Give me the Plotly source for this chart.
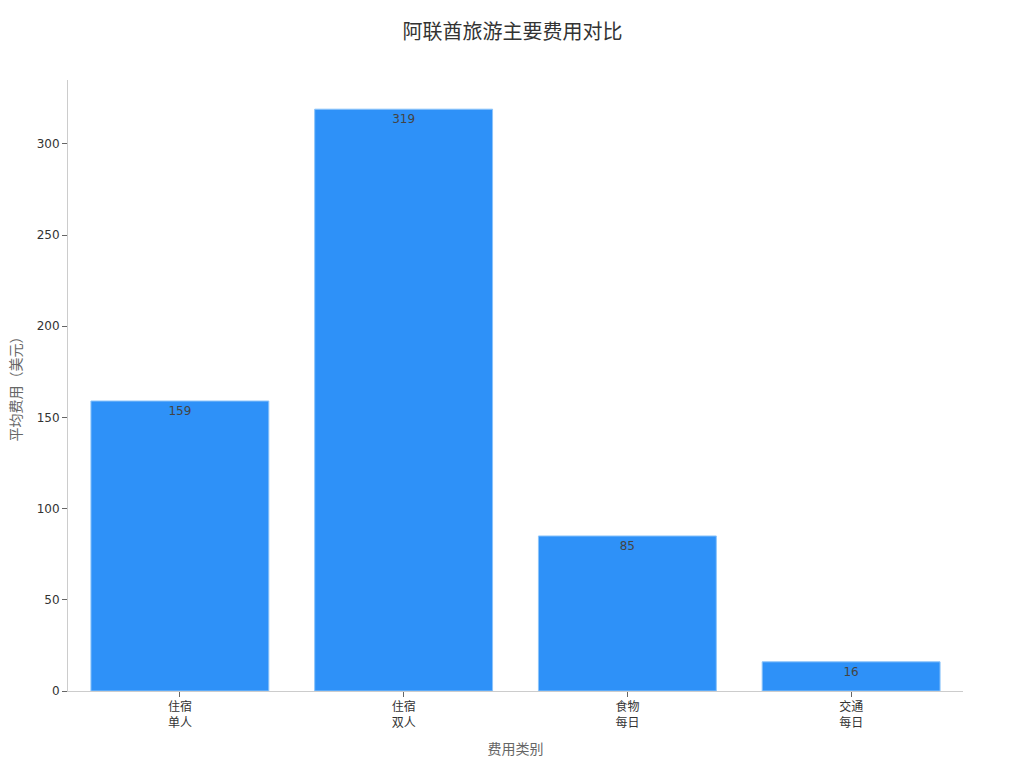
import plotly.graph_objects as go

categories = ["住宿<br>单人", "住宿<br>双人", "食物<br>每日", "交通<br>每日"]
costs = [159, 319, 85, 16]
y_ticks = [0, 50, 100, 150, 200, 250, 300]

fig = go.Figure(
    go.Bar(
        x=categories,
        y=costs,
        text=costs,
        textposition="inside",
        insidetextanchor="end",
        textfont=dict(size=12, color="#444444"),
        marker=dict(color="#2E91F8", line=dict(color="#8CC4FA", width=1)),
        width=0.795,
    )
)

fig.update_layout(
    width=1024,
    height=768,
    margin=dict(l=60, r=69, t=72, b=85),
    paper_bgcolor="white",
    plot_bgcolor="white",
    font=dict(family="DejaVu Sans, Noto Sans CJK SC", size=12, color="#333333"),
    title=dict(text="阿联酋旅游主要费用对比", x=0.4927, xanchor="center", y=0.978,
               yanchor="top", font=dict(size=20, color="#333333")),
    showlegend=False,
    uniformtext=dict(minsize=8, mode="show"),
)
fig.update_xaxes(
    title=dict(text="费用类别", font=dict(size=14, color="#666666")),
    range=[-0.5, 3.5],
    showline=True, linecolor="#CCCCCC", linewidth=1,
    ticks="outside", tickcolor="#666666", ticklen=5,
    showgrid=False, automargin=False,
)
fig.update_yaxes(
    title=dict(text="平均费用（美元）", font=dict(size=14, color="#666666")),
    range=[0, 335],
    tickvals=y_ticks,
    showline=True, linecolor="#CCCCCC", linewidth=1,
    ticks="outside", tickcolor="#666666", ticklen=5,
    showgrid=False, zeroline=False, automargin=False,
)

fig.write_html("out.html")
